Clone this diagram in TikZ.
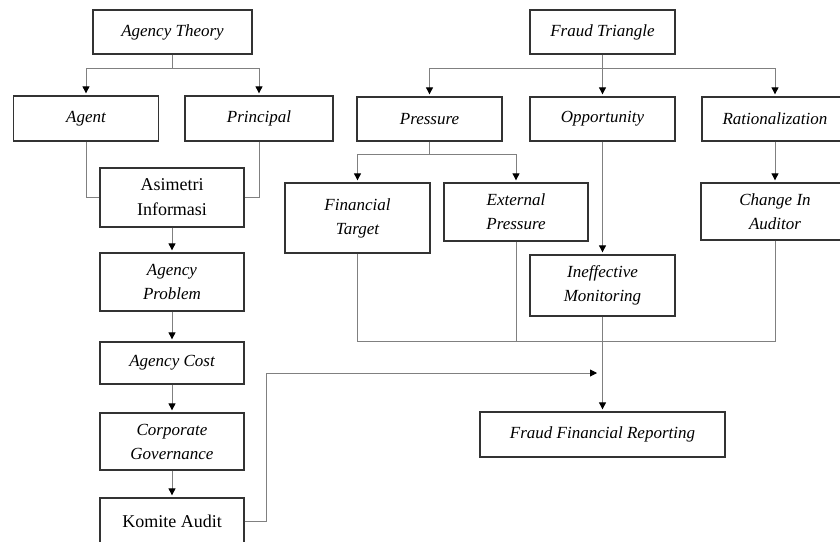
\documentclass[tikz,border=0pt]{standalone}
\usepackage{fontspec}
\setmainfont{Liberation Serif}
\usetikzlibrary{arrows.meta}
\begin{document}
\begin{tikzpicture}[x=1pt,y=-1pt,
  box/.style={draw=black!80,line width=1.3pt,inner sep=0pt,align=center,font=\fontsize{17}{24}\selectfont\itshape},
  ubox/.style={box,font=\fontsize{18}{25}\selectfont},
  conn/.style={draw=black!50,line width=0.9pt},
  arr/.style={conn,-{Triangle[width=7pt,length=7pt,color=black]},shorten >=2pt}]
\useasboundingbox (0,0) rectangle (840,541);
\clip (0,0) rectangle (840,541);
% left column
\node[box,minimum width=159pt,minimum height=44pt] (theory) at (172.5,32) {Agency Theory};
\node[box,minimum width=145pt,minimum height=45pt] (agent) at (86,118.5) {Agent};
\node[box,minimum width=148pt,minimum height=45pt] (principal) at (259,118.5) {Principal};
\node[ubox,minimum width=144pt,minimum height=59pt] (asimetri) at (172,197.5) {Asimetri\\Informasi};
\node[box,minimum width=144pt,minimum height=58pt] (problem) at (172,282) {Agency\\Problem};
\node[box,minimum width=144pt,minimum height=42pt] (cost) at (172,363) {Agency Cost};
\node[box,minimum width=144pt,minimum height=57pt] (govern) at (172,441.5) {Corporate\\Governance};
\node[ubox,minimum width=144pt,minimum height=46pt] (komite) at (172,521) {Komite Audit};
% right part
\node[box,minimum width=145pt,minimum height=44pt] (fraudtri) at (602.5,32) {Fraud Triangle};
\node[box,minimum width=145pt,minimum height=44pt] (pressure) at (429.5,119) {Pressure};
\node[box,minimum width=145pt,minimum height=44pt] (opportunity) at (602.5,119) {Opportunity};
\node[box,minimum width=146pt,minimum height=44pt] (rational) at (775,119) {Rationalization};
\node[box,minimum width=145pt,minimum height=70pt] (fintarget) at (357.5,218) {Financial\\Target};
\node[box,minimum width=144pt,minimum height=58pt] (extpressure) at (516,212) {External\\Pressure};
\node[box,minimum width=148pt,minimum height=57pt] (changeaud) at (775,211.5) {Change In\\Auditor};
\node[box,minimum width=145pt,minimum height=61pt] (ineffective) at (602.5,285.5) {Ineffective\\Monitoring};
\node[box,minimum width=245pt,minimum height=45pt] (ffr) at (602.5,434.5) {Fraud Financial Reporting};
% connectors left
\draw[conn] (theory.south) -- (172.5,68);
\draw[arr] (172.5,68) -| (agent.north);
\draw[arr] (172.5,68) -| (principal.north);
\draw[conn] (agent.south) |- (asimetri.west);
\draw[conn] (principal.south) |- (asimetri.east);
\draw[arr] (asimetri) -- (problem);
\draw[arr] (problem) -- (cost);
\draw[arr] (cost) -- (govern);
\draw[arr] (govern) -- (komite);
\coordinate (kend) at (597,373);
\draw[arr,shorten >=0pt] (komite.east) -- (266,521) -- (266,373) -- (kend);
% connectors right
\draw[conn] (fraudtri.south) -- (602.5,68);
\draw[arr] (602.5,68) -| (pressure.north);
\draw[arr] (602.5,68) -- (opportunity.north);
\draw[arr] (602.5,68) -| (rational.north);
\draw[conn] (pressure.south) -- (429.5,154);
\draw[arr] (429.5,154) -| (fintarget.north);
\draw[arr] (429.5,154) -| (extpressure.north);
\draw[arr] (rational.south) -- (changeaud.north);
\draw[arr] (opportunity.south) -- (ineffective.north);
\coordinate (collect) at (602.5,341);
\draw[conn] (fintarget.south) |- (collect);
\draw[conn] (changeaud.south) |- (collect);
\draw[conn] (extpressure.south) -- (516,341);
\draw[arr] (ineffective.south) -- (ffr.north);
\end{tikzpicture}
\end{document}
